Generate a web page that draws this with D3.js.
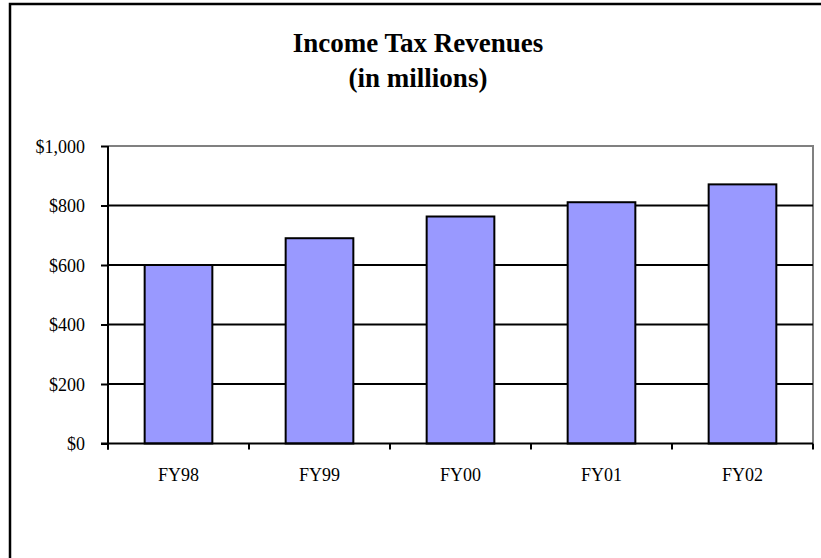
<!DOCTYPE html>
<html>
<head>
<meta charset="utf-8">
<script src="https://cdn.jsdelivr.net/npm/d3@7/dist/d3.min.js"></script>
<style>
  html, body { margin: 0; padding: 0; background: #fff; }
  svg { display: block; }
  text { font-family: "Liberation Serif", "Times New Roman", serif; fill: #000; }
</style>
</head>
<body>
<svg id="chart" width="821" height="558"></svg>
<script>
// Income tax revenues by fiscal year, in millions of dollars
const categories = ["FY98", "FY99", "FY00", "FY01", "FY02"];
const revenues = [600, 690, 763, 811, 871];
const yTicks = [0, 200, 400, 600, 800, 1000];
const titleLines = ["Income Tax Revenues", "(in millions)"];

const svg = d3.select("#chart");
const W = 821, H = 558;
const plot = { left: 108, right: 813, top: 146, bottom: 443.5 };

// outer frame (left and top edges)
svg.append("path")
  .attr("d", `M10,${H + 5} V4 H${W + 5}`)
  .attr("fill", "none").attr("stroke", "#000").attr("stroke-width", 2.5);

// title
svg.append("text").attr("x", 418).attr("y", 52)
  .attr("text-anchor", "middle").attr("font-weight", "bold").attr("font-size", 27)
  .text(titleLines[0]);
svg.append("text").attr("x", 418).attr("y", 87)
  .attr("text-anchor", "middle").attr("font-weight", "bold").attr("font-size", 27)
  .text(titleLines[1]);

const x = d3.scaleBand().domain(categories).range([plot.left, plot.right]).paddingInner(0.52).paddingOuter(0.26);
const xOuter = d3.scaleBand().domain(categories).range([plot.left, plot.right]);
const y = d3.scaleLinear().domain([0, 1000]).range([plot.bottom, plot.top]);

// plot area border (grey top/right)
svg.append("path")
  .attr("d", `M${plot.left},${plot.top} H${plot.right} V${plot.bottom}`)
  .attr("fill", "none").attr("stroke", "#808080").attr("stroke-width", 2);

// gridlines
svg.append("g").selectAll("line")
  .data(yTicks.filter(d => d > 0 && d < 1000))
  .join("line")
  .attr("x1", plot.left).attr("x2", plot.right)
  .attr("y1", d => y(d)).attr("y2", d => y(d))
  .attr("stroke", "#000").attr("stroke-width", 2);

// bars
svg.append("g").selectAll("rect")
  .data(categories)
  .join("rect")
  .attr("x", d => x(d))
  .attr("width", x.bandwidth())
  .attr("y", (d, i) => y(revenues[i]))
  .attr("height", (d, i) => y(0) - y(revenues[i]))
  .attr("fill", "#9999FF").attr("stroke", "#000").attr("stroke-width", 2);

// y axis
const yAxis = svg.append("g")
  .attr("transform", `translate(${plot.left},0)`)
  .call(d3.axisLeft(y).tickValues(yTicks).tickSize(7).tickPadding(16)
    .tickFormat(d => "$" + d3.format(",")(d)));
yAxis.attr("font-family", null);
yAxis.select(".domain").attr("stroke", "#000").attr("stroke-width", 2)
  .attr("d", `M0,${plot.top} V${plot.bottom + 6}`);
yAxis.selectAll(".tick line").attr("stroke", "#000").attr("stroke-width", 2);
yAxis.selectAll(".tick text").attr("font-size", 18).attr("fill", "#000").attr("dy", "0.34em");

// x axis with ticks between categories
const xAxis = svg.append("g").attr("transform", `translate(0,${plot.bottom})`);
xAxis.append("line").attr("x1", plot.left - 7).attr("x2", plot.right)
  .attr("stroke", "#000").attr("stroke-width", 2);
const bounds = categories.map(c => xOuter(c)).concat([plot.right]);
xAxis.selectAll("line.sep").data(bounds).join("line").attr("class", "sep")
  .attr("x1", d => d).attr("x2", d => d).attr("y1", 0).attr("y2", 6)
  .attr("stroke", "#000").attr("stroke-width", 2);
xAxis.selectAll("text").data(categories).join("text")
  .attr("x", d => xOuter(d) + xOuter.bandwidth() / 2)
  .attr("y", 37)
  .attr("text-anchor", "middle").attr("font-size", 18)
  .text(d => d);
</script>
</body>
</html>
